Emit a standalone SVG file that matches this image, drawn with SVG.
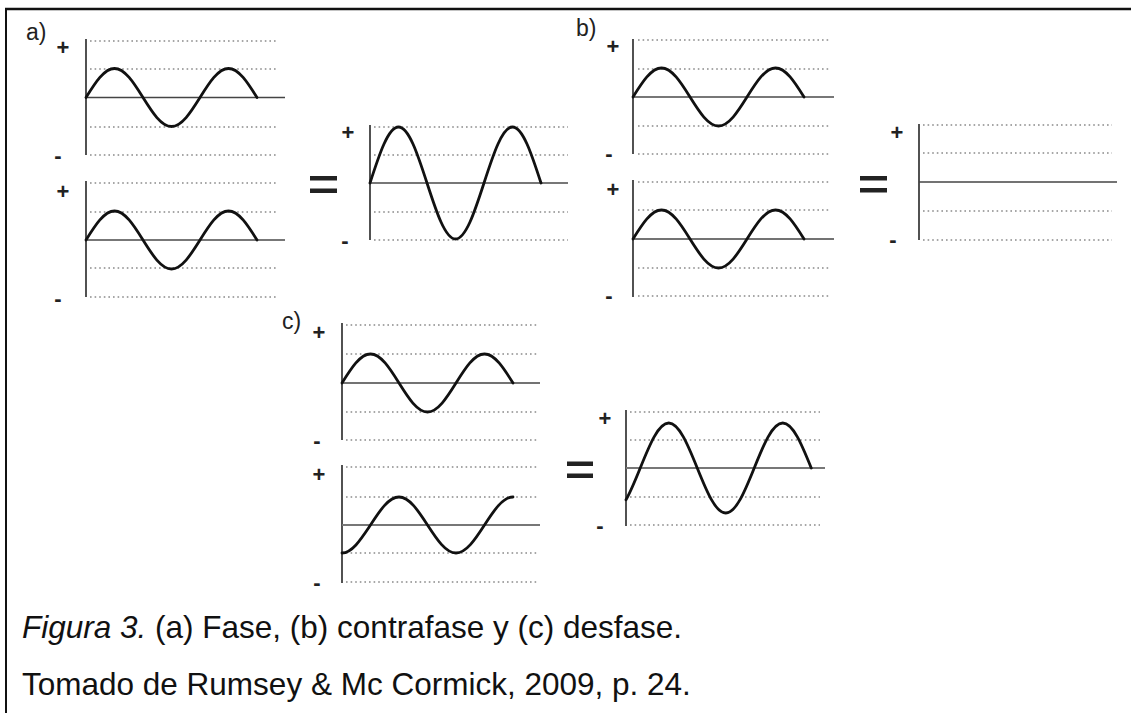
<svg xmlns="http://www.w3.org/2000/svg" xmlns:xlink="http://www.w3.org/1999/xlink" width="1131" height="713" viewBox="0 0 1131 713">
<style>
.dot{stroke:#8a8a8a;stroke-width:1.3;stroke-dasharray:1.6 3;fill:none}
.ax{stroke:#333;stroke-width:1.7;fill:none}
.zero{stroke:#444;stroke-width:1.6;fill:none}
.zg{stroke:#777;stroke-width:1.8;fill:none}
.wave{stroke:#111;stroke-width:2.8;fill:none;stroke-linecap:round;stroke-linejoin:round}
.sign{font-family:"Liberation Sans",Arial,sans-serif;font-size:22px;font-weight:bold;fill:#222;text-anchor:middle}
.lbl{font-family:"Liberation Sans",Arial,sans-serif;font-size:23px;fill:#222}
.eq{fill:#222}
.cap{font-family:"Liberation Sans",Arial,sans-serif;font-size:31.5px;fill:#111}
</style>
<defs>
<path id="w" d="M0,0 c9.29,-14.85 18.24,-29 28.5,-29 c10.26,0 19.21,14.15 28.5,29 c9.29,14.85 18.24,29 28.5,29 c10.26,0 19.21,-14.15 28.5,-29 c9.29,-14.85 18.24,-29 28.5,-29 c10.26,0 19.21,14.15 28.5,29"/>
</defs>
<rect width="1131" height="713" fill="#fff"/>
<g id="frame">
<line x1="5" y1="9" x2="1131" y2="9" stroke="#111" stroke-width="2.5"/>
<line x1="6" y1="8" x2="6" y2="713" stroke="#111" stroke-width="2"/>
</g>

<g id="panel-a-top">
<text class="lbl" x="26" y="40">a)</text>
<path class="dot" d="M90,41H278M90,69H278M90,127H278M90,155H278"/>
<line class="ax" x1="86" y1="39" x2="86" y2="155"/>
<line class="zero" x1="86" y1="97.5" x2="285" y2="97.5"/>
<use href="#w" x="86" y="97.5" class="wave"/>
<text class="sign" x="63" y="55">+</text>
<text class="sign" x="58" y="163">-</text>
</g>
<g id="panel-a-bottom">
<path class="dot" d="M90,183H278M90,212H278M90,268H278M90,297H278"/>
<line class="ax" x1="86" y1="181" x2="86" y2="297"/>
<line class="zg" x1="86" y1="240" x2="285" y2="240"/>
<use href="#w" x="86" y="240" class="wave"/>
<text class="sign" x="63" y="199">+</text>
<text class="sign" x="58" y="306">-</text>
</g>
<g id="eq-a">
<rect class="eq" x="310" y="176" width="27" height="4.5"/>
<rect class="eq" x="310" y="188.5" width="27" height="4.5"/>
</g>
<g id="panel-a-result">
<path class="dot" d="M374,127H568M374,155H568M374,212H568M374,240H568"/>
<line class="ax" x1="370" y1="125" x2="370" y2="240"/>
<line class="zg" x1="370" y1="183" x2="568" y2="183"/>
<path class="wave" d="M370,183 c9.29,-28.69 18.24,-56 28.5,-56 c10.26,0 19.21,27.33 28.5,56 c9.29,28.69 18.24,56 28.5,56 c10.26,0 19.21,-27.33 28.5,-56 c9.29,-28.69 18.24,-56 28.5,-56 c10.26,0 19.21,27.33 28.5,56"/>
<text class="sign" x="348" y="140">+</text>
<text class="sign" x="345" y="248">-</text>
</g>

<g id="panel-b-top">
<text class="lbl" x="576" y="36">b)</text>
<path class="dot" d="M638,40H831M638,69H831M638,126H831M638,154H831"/>
<line class="ax" x1="633" y1="39" x2="633" y2="154"/>
<line class="zg" x1="633" y1="97" x2="834" y2="97"/>
<use href="#w" x="633" y="97" class="wave"/>
<text class="sign" x="613" y="54">+</text>
<text class="sign" x="609" y="161">-</text>
</g>
<g id="panel-b-bottom">
<path class="dot" d="M638,182H831M638,210H831M638,268H831M638,296H831"/>
<line class="ax" x1="633" y1="180" x2="633" y2="297"/>
<line class="zero" x1="633" y1="239" x2="834" y2="239"/>
<use href="#w" x="633" y="239" class="wave"/>
<text class="sign" x="613" y="197">+</text>
<text class="sign" x="609" y="303">-</text>
</g>
<g id="eq-b">
<rect class="eq" x="860" y="176" width="27" height="4.5"/>
<rect class="eq" x="860" y="188" width="27" height="4.5"/>
</g>
<g id="panel-b-result">
<path class="dot" d="M923,125H1112M923,153H1112M923,211H1112M923,240H1112"/>
<line class="ax" x1="919" y1="124" x2="919" y2="240"/>
<line class="zero" x1="919" y1="182" x2="1117" y2="182"/>
<text class="sign" x="897" y="140">+</text>
<text class="sign" x="893" y="247">-</text>
</g>

<g id="panel-c-top">
<text class="lbl" x="282" y="329">c)</text>
<path class="dot" d="M346,325H538M346,354H538M346,412H538M346,440H538"/>
<line class="ax" x1="342" y1="323" x2="342" y2="440"/>
<line class="zero" x1="342" y1="383" x2="540" y2="383"/>
<use href="#w" x="342" y="383" class="wave"/>
<text class="sign" x="319" y="340">+</text>
<text class="sign" x="317" y="448">-</text>
</g>
<g id="panel-c-bottom">
<path class="dot" d="M346,467H538M346,497H538M346,553H538M346,582H538"/>
<line class="ax" x1="342" y1="465" x2="342" y2="583"/>
<line class="zg" x1="342" y1="525" x2="540" y2="525"/>
<path class="wave" d="M342,553 c10.26,0 19.21,-14.15 28.5,-28 c9.29,-14.35 18.24,-28 28.5,-28 c10.26,0 19.21,13.66 28.5,28 c9.29,14.35 18.24,28 28.5,28 c10.26,0 19.21,-13.66 28.5,-28 c9.29,-14.35 18.24,-28 28.5,-28"/>
<text class="sign" x="319" y="482">+</text>
<text class="sign" x="317" y="590">-</text>
</g>
<g id="eq-c">
<rect class="eq" x="567" y="461.5" width="26" height="4.5"/>
<rect class="eq" x="567" y="473.5" width="26" height="4.5"/>
</g>
<g id="panel-c-result">
<path class="dot" d="M630,412H820M630,440H820M630,497H820M630,525H820"/>
<line class="ax" x1="626" y1="410" x2="626" y2="526"/>
<line class="zg" x1="626" y1="468" x2="825" y2="468"/>
<path class="wave" d="M626,499.8 C630.75,491.5 635.5,479.8 640.25,468 c9.29,-23.05 18.24,-45 28.5,-45 c10.26,0 19.21,21.95 28.5,45 c9.29,23.05 18.24,45 28.5,45 c10.26,0 19.21,-21.95 28.5,-45 c9.29,-23.05 18.24,-45 28.5,-45 c10.26,0 19.21,21.95 28.5,45"/>
<text class="sign" x="605" y="426">+</text>
<text class="sign" x="600" y="533">-</text>
</g>

<g id="caption">
<text class="cap" x="22" y="638"><tspan font-style="italic">Figura 3.</tspan> (a) Fase, (b) contrafase y (c) desfase.</text>
<text class="cap" x="22" y="695">Tomado de Rumsey &amp; Mc Cormick, 2009, p. 24.</text>
</g>
</svg>
